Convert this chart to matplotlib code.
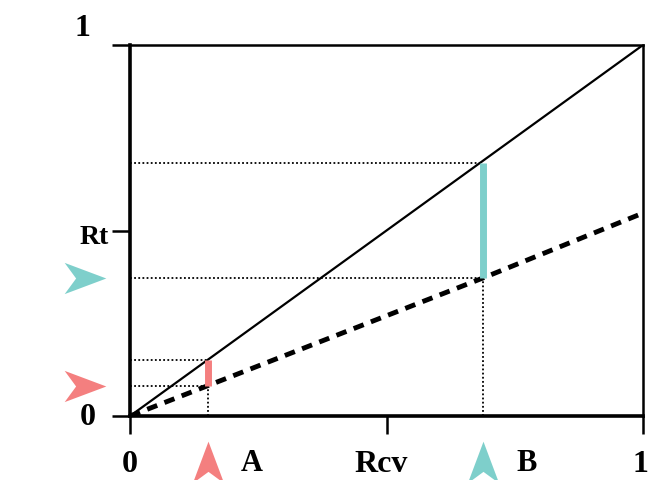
import matplotlib.pyplot as plt
from matplotlib.path import Path
from matplotlib.transforms import Affine2D

# values
diag_x = [0, 1]
diag_y = [0, 1]
test_x = [0, 0.152, 0.688, 1.0]
test_y = [0, 0.082, 0.372, 0.547]
points_x = [0.152, 0.688]      # A, B
points_hi = [0.151, 0.682]     # diagonal value at A, B
points_lo = [0.082, 0.372]     # dashed value at A, B
point_names = ['A', 'B']
point_colors = ['#F47F7F', '#7ECFCB']

plt.rcParams['font.family'] = ['Liberation Serif', 'DejaVu Serif']
plt.rcParams['font.weight'] = 'bold'

fig = plt.figure(figsize=(6.59, 4.80), dpi=100)
ax = fig.add_axes([0.1973, 0.1333, 0.7784, 0.7729])

ax.plot(diag_x, diag_y, color='black', lw=1.6)
ax.plot(test_x, test_y, color='black', lw=3.5, ls=(0, (2.2, 1.6)))

# chevron arrowhead marker, tip pointing right
arrow = Path([(1, 0), (-1, 0.75), (-0.45, 0), (-1, -0.75), (1, 0)],
             [Path.MOVETO, Path.LINETO, Path.LINETO, Path.LINETO, Path.CLOSEPOLY])
arrow_up = arrow.transformed(Affine2D().rotate_deg(90))

for x, hi, lo, name, c in zip(points_x, points_hi, points_lo, point_names, point_colors):
    ax.plot([0, x], [hi, hi], color='black', lw=1.3, ls=(0, (1, 1.3)))
    ax.plot([0, x], [lo, lo], color='black', lw=1.3, ls=(0, (1, 1.3)))
    ax.plot([x, x], [0, lo], color='black', lw=1.3, ls=(0, (1, 1.3)))
    ax.plot([x, x], [lo, hi], color=c, lw=5, solid_capstyle='butt', zorder=3)
    ax.plot([-0.088], [lo], marker=arrow, ms=30, color=c, mec='none', clip_on=False)
    ax.plot([x], [-0.125], marker=arrow_up, ms=30, color=c, mec='none', clip_on=False)
    ax.text(x + 0.085, -0.128, name, fontsize=22, ha='center', va='center',
            clip_on=False)

ax.set_xlim(0, 1)
ax.set_ylim(0, 1)
ax.set_xticks([0, 0.5, 1])
ax.set_yticks([0, 0.5, 1])
ax.set_xticklabels([])
ax.set_yticklabels([])
ax.tick_params(direction='out', length=13, width=1.8)

ax.text(0, -0.13, '0', fontsize=23, ha='center', va='center', transform=ax.transAxes)
ax.text(0.995, -0.13, '1', fontsize=23, ha='center', va='center', transform=ax.transAxes)
ax.text(0.49, -0.13, 'Rcv', fontsize=23, ha='center', va='center', transform=ax.transAxes)
ax.text(-0.082, -0.005, '0', fontsize=23, ha='center', va='center', transform=ax.transAxes)
ax.text(-0.092, 1.045, '1', fontsize=23, ha='center', va='center', transform=ax.transAxes)
ax.text(-0.07, 0.48, 'Rt', fontsize=20, ha='center', va='center', transform=ax.transAxes)

for side in ['top', 'right']:
    ax.spines[side].set_linewidth(1.8)
for side in ['left', 'bottom']:
    ax.spines[side].set_linewidth(2.6)

plt.savefig('out.png', dpi=100)
